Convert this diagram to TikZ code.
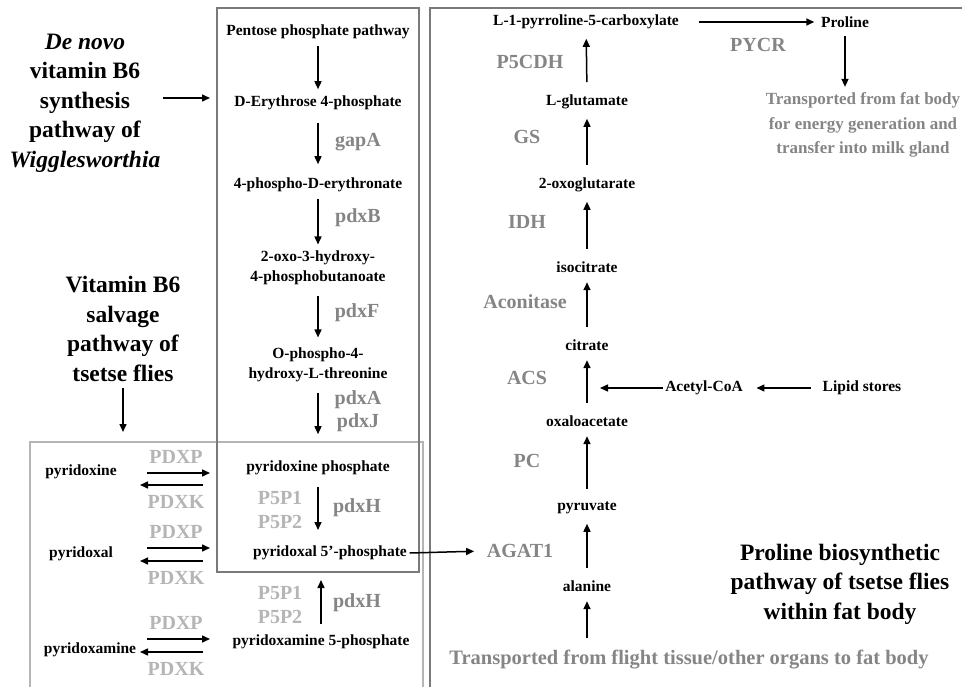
\documentclass[tikz,border=0pt]{standalone}
\usepackage{fontspec}
\setmainfont{Liberation Serif}
\usetikzlibrary{arrows.meta}
\definecolor{frame}{HTML}{7A7A7A}
\definecolor{pale}{HTML}{B5B5B5}
\definecolor{enz}{HTML}{858585}

\begin{document}
\begin{tikzpicture}[x=1pt,y=-1pt,>={Triangle[length=8pt,width=7pt]},line width=1.5pt,
  every node/.style={inner sep=2pt},
  chem/.style={font=\fontsize{15.5}{19.5}\selectfont\bfseries,align=center},
  enzyme/.style={font=\fontsize{20}{22}\selectfont\bfseries,text=enz},
  paleenz/.style={enzyme,text=pale},
  title/.style={font=\fontsize{23.5}{29.5}\selectfont\bfseries,align=center},
  note/.style={font=\fontsize{20.5}{24.5}\selectfont\bfseries,text=enz,align=center},
  up/.style={->,shorten <=10pt,shorten >=7pt},
  box/.style={line width=2pt}]
\path[use as bounding box] (0,0) rectangle (962,687);

% frames
\draw[box,pale] (30,687)--(30,442)--(423,442)--(423,687);
\draw[box,frame] (217,8) rectangle (419,572);
\draw[box,frame] (430,687)--(430,8)--(962,8);

% left titles
\node[title] (denovo) at (85,103) {\textit{De novo}\\vitamin B6\\synthesis\\pathway of\\\textit{Wigglesworthia}};
\node[title] (salv) at (123,329) {Vitamin B6\\salvage\\pathway of\\tsetse flies};
\coordinate (dnin) at (210,98);
\coordinate (salvin) at (123,432);
\draw[->] (denovo.east |- dnin) -- (dnin);
\draw[->,shorten <=4pt] (salv.south) -- (salvin);

% de novo chain
\node[chem] (ppp) at (318,32) {Pentose phosphate pathway};
\node[chem] (e4p) at (318,103) {D-Erythrose 4-phosphate};
\node[chem] (per) at (318,185) {4-phospho-D-erythronate};
\node[chem] (ohpb) at (318,268) {2-oxo-3-hydroxy-\\4-phosphobutanoate};
\node[chem] (php) at (318,365) {O-phospho-4-\\hydroxy-L-threonine};
\node[chem] (pnp) at (318,468) {pyridoxine phosphate};
\node[chem] (plp) at (330,553) {pyridoxal 5’-phosphate};
\node[chem] (pmp) at (321,642) {pyridoxamine 5-phosphate};
\foreach \a/\b/\s/\t in {ppp/e4p/4/4,e4p/per/10/11,per/ohpb/4/4,ohpb/php/8/8,php/pnp/8/24}
  \draw[->,shorten <=\s pt,shorten >=\t pt] (\a) -- (\b);
\draw[->,shorten <=9pt,shorten >=23pt] (pnp.south) -- (pnp |- plp);
\draw[->,shorten <=8pt,shorten >=27pt] (pmp.north) -- (pmp |- plp);

\node[enzyme] (gapA) at (358,142) {gapA};
\node[enzyme] (pdxB) at (358,218) {pdxB};
\node[enzyme] (pdxF) at (357,313) {pdxF};
\node[enzyme] (pdxA) at (358,400) {pdxA};
\node[enzyme] (pdxJ) at (358,423) {pdxJ};
\node[enzyme] (pdxHa) at (357,508) {pdxH};
\node[enzyme] (pdxHb) at (357,603) {pdxH};
\node[paleenz] (ppa) at (280,498) {P5P1};
\node[paleenz] (ppb) at (280,522) {P5P2};
\node[paleenz] (ppc) at (280,593) {P5P1};
\node[paleenz] (ppd) at (280,617) {P5P2};

% salvage
\node[chem] (pn) at (81,472) {pyridoxine};
\node[chem] (pl) at (81,554) {pyridoxal};
\node[chem] (pm) at (90,650) {pyridoxamine};
\foreach \n/\yp/\yk in {1/457/502,2/532/578,3/623/669}{
  \node[paleenz] (pdxp\n) at (176,\yp) {PDXP};
  \node[paleenz] (pdxk\n) at (176,\yk) {PDXK};
  \draw[->] ([shift={(-29,16)}]pdxp\n.center) -- ++(63,0);
  \draw[->] ([shift={(27,-17)}]pdxk\n.center) -- ++(-63,0);
}

% proline pathway
\node[chem] (p5c) at (586,22) {L-1-pyrroline-5-carboxylate};
\node[chem] (pro) at (845,22) {Proline};
\node[chem] (glu) at (587,102) {L-glutamate};
\node[chem] (akg) at (587,185) {2-oxoglutarate};
\node[chem] (icit) at (587,267) {isocitrate};
\node[chem] (cit) at (587,345) {citrate};
\node[chem] (oaa) at (587,421) {oxaloacetate};
\node[chem] (pyr) at (587,508) {pyruvate};
\node[chem] (ala) at (587,586) {alanine};
\node[chem] (acoa) at (704,388) {Acetyl-CoA};
\node[chem] (lipid) at (862,388) {Lipid stores};
\node[note] (flight) at (689,660) {Transported from flight tissue/other organs to fat body};
\node[note,font=\fontsize{17}{24.5}\selectfont\bfseries] (milk) at (863,125) {Transported from fat body\\for energy generation and\\transfer into milk gland};
\node[title] (prol) at (840,584) {Proline biosynthetic\\pathway of tsetse flies\\within fat body};

\node[enzyme] (pycr) at (758,45) {PYCR};
\node[enzyme] (p5cdh) at (530,62) {P5CDH};
\node[enzyme] (gs) at (527,137) {GS};
\node[enzyme] (idh) at (527,222) {IDH};
\node[enzyme] (acon) at (525,302) {Aconitase};
\node[enzyme] (acs) at (527,378) {ACS};
\node[enzyme] (pc) at (527,461) {PC};
\node[enzyme] (agat) at (520,551) {AGAT1};

\foreach \a/\b in {flight/ala,ala/pyr,pyr/oaa,oaa/cit,cit/icit,icit/akg,akg/glu,glu/p5c}
  \draw[up] (\a.north -| ala) -- (\b);
\draw[->,shorten <=17pt,shorten >=4pt] (p5c.east) -- (pro.west);
\draw[->,shorten <=6pt,shorten >=3pt] (pro.south) -- (pro.south |- milk.north);
\coordinate (tcain) at (600,388);
\draw[->] (acoa.west) -- (tcain);
\draw[->,shorten <=9pt,shorten >=11pt] (lipid.west) -- (acoa.east);
\draw[->,shorten >=10pt] (plp.east) -- (agat.west);

\end{tikzpicture}
\end{document}
